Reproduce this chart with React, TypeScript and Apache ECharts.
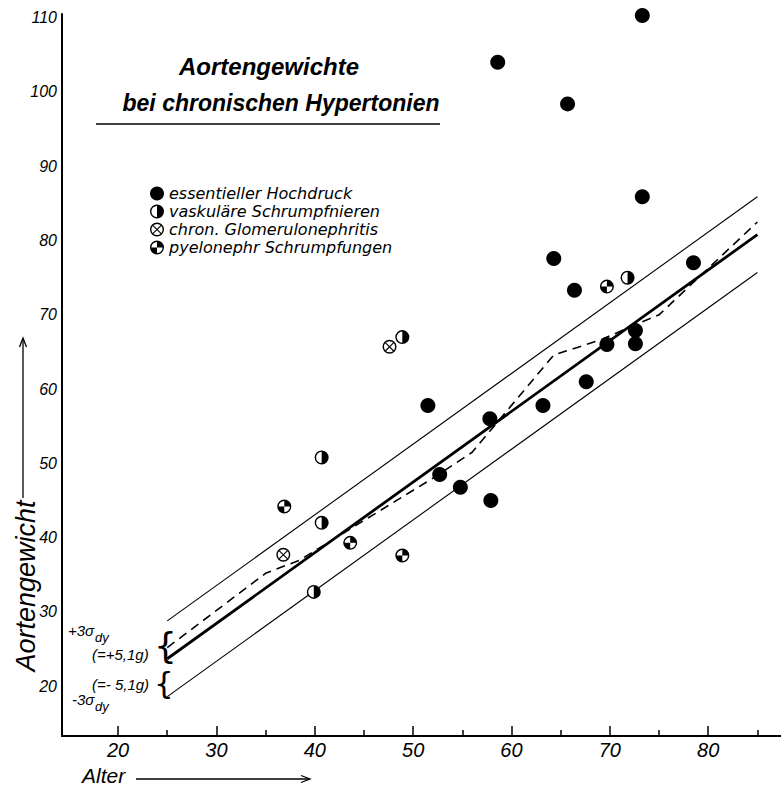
import React, { useEffect, useRef } from 'react';
import * as echarts from 'echarts';

// ---- axis ticks / labels ----
const xTickLabels = [20, 30, 40, 50, 60, 70, 80];
const xMinorTicks = [25, 35, 45, 55, 65, 75, 85];
const yTickLabels = [20, 30, 40, 50, 60, 70, 80, 90, 100, 110];

// ---- data points [Alter, Aortengewicht] ----
const essential: [number, number][] = [
  [73.3, 110.3], [58.6, 104.0], [65.7, 98.4], [73.3, 85.9], [64.3, 77.6],
  [66.4, 73.3], [78.5, 77.0], [51.5, 57.8], [57.8, 56.0], [63.2, 57.8],
  [67.6, 61.0], [69.7, 66.0], [72.6, 67.9], [72.6, 66.1], [52.7, 48.5],
  [54.8, 46.8], [57.9, 45.0],
];
const vascular: [number, number][] = [
  [40.7, 50.8], [40.7, 42.0], [48.9, 67.0], [39.9, 32.7], [71.8, 75.0],
];
const glomerulo: [number, number][] = [
  [47.6, 65.7], [36.8, 37.7],
];
const pyelo: [number, number][] = [
  [36.9, 44.2], [43.6, 39.3], [48.9, 37.6], [69.7, 73.8],
];

// ---- lines ----
const regressionLine: [number, number][] = [[25, 23.7], [85, 80.8]];
const upperLimit: [number, number][] = [[25, 28.8], [85, 85.9]];
const lowerLimit: [number, number][] = [[25, 18.6], [85, 75.7]];
const groupMeans: [number, number][] = [
  [25, 25.2], [35, 35.2], [38.5, 37.0], [44, 41.5], [52, 48.0], [56, 51.5],
  [64.3, 64.6], [69, 66.6], [73, 68.9], [75, 70.0], [85, 82.5],
];

const seriesNames = [
  'essentieller Hochdruck',
  'vaskuläre Schrumpfnieren',
  'chron. Glomerulonephritis',
  'pyelonephr Schrumpfungen',
];

// symbol paths (20x20 box)
const RING = 'M10,0A10,10 0 1 1 10,20A10,10 0 1 1 10,0Z M10,2A8,8 0 1 0 10,18A8,8 0 1 0 10,2Z';
const HALF_SYM = 'path://' + RING + ' M10,2A8,8 0 0 1 10,18Z';
const CROSS_SYM = 'path://' + RING +
  ' M4.909,3.777L16.223,15.091L15.091,16.223L3.777,4.909Z' +
  ' M16.223,4.909L4.909,16.223L3.777,15.091L15.091,3.777Z';
const QUAD_SYM = 'path://' + RING +
  ' M10,10L10,2A8,8 0 0 1 18,10Z M10,10L10,18A8,8 0 0 1 2,10Z';

const SANS = '"Liberation Sans", "DejaVu Sans", sans-serif';
const DEJAVU = '"DejaVu Sans", sans-serif';

export default function App() {
  const ref = useRef<HTMLDivElement>(null);

  useEffect(() => {
    document.body.style.margin = '0';
    const chart = echarts.init(ref.current!, null, { renderer: 'svg' });

    const lineBase = {
      type: 'line' as const,
      showSymbol: false,
      symbol: 'none',
      silent: true,
      z: 1,
    };

    const txt = (text: string, x: number, y: number, extra: any = {}) => ({
      type: 'text',
      x,
      y,
      silent: true,
      style: {
        text,
        fill: '#000',
        fontFamily: SANS,
        fontStyle: 'italic',
        fontSize: 15,
        textAlign: 'left',
        textVerticalAlign: 'middle',
        ...extra,
      },
    });

    const markerStyle = { color: '#000', opacity: 1 };

    chart.setOption({
      animation: false,
      backgroundColor: '#fff',
      grid: { left: 62, top: 14, width: 719, height: 722, containLabel: false },
      xAxis: [
        {
          type: 'value',
          min: 14.3,
          max: 87.4,
          position: 'bottom',
          axisLine: { show: true, lineStyle: { color: '#000', width: 2 } },
          axisTick: {
            show: true,
            inside: true,
            length: 10,
            customValues: xTickLabels,
            lineStyle: { color: '#000', width: 1.5 },
          },
          axisLabel: {
            customValues: xTickLabels,
            color: '#000',
            fontSize: 20,
            fontStyle: 'italic',
            fontFamily: SANS,
            margin: 4,
          },
          splitLine: { show: false },
        },
        {
          type: 'value',
          min: 14.3,
          max: 87.4,
          position: 'bottom',
          offset: 0,
          axisLine: { show: false },
          axisTick: {
            show: true,
            inside: true,
            length: 6,
            customValues: xMinorTicks,
            lineStyle: { color: '#000', width: 1.5 },
          },
          axisLabel: { show: false },
          splitLine: { show: false },
        },
      ],
      yAxis: {
        type: 'value',
        min: 13.3,
        max: 110.5,
        axisLine: { show: true, lineStyle: { color: '#000', width: 2 } },
        axisTick: { show: false },
        axisLabel: {
          customValues: yTickLabels,
          color: '#000',
          fontSize: 16,
          fontStyle: 'italic',
          fontFamily: SANS,
          margin: 5,
        },
        splitLine: { show: false },
      },
      legend: {
        orient: 'vertical',
        left: 145,
        top: 180,
        itemWidth: 14,
        itemHeight: 14,
        itemGap: 1,
        selectedMode: false,
        textStyle: { color: '#000', fontSize: 16, fontStyle: 'italic', fontFamily: DEJAVU, lineHeight: 17 },
        data: [
          { name: seriesNames[0], icon: 'circle' },
          { name: seriesNames[1], icon: HALF_SYM },
          { name: seriesNames[2], icon: CROSS_SYM },
          { name: seriesNames[3], icon: QUAD_SYM },
        ],
      },
      series: [
        { ...lineBase, data: upperLimit, lineStyle: { color: '#000', width: 1.1 } },
        { ...lineBase, data: lowerLimit, lineStyle: { color: '#000', width: 1.1 } },
        { ...lineBase, data: regressionLine, lineStyle: { color: '#000', width: 2.8 } },
        { ...lineBase, data: groupMeans, lineStyle: { color: '#000', width: 1.6, type: [9, 6] } },
        {
          type: 'scatter',
          data: [...vascular, ...glomerulo, ...pyelo],
          symbol: 'circle',
          symbolSize: 13,
          clip: false,
          silent: true,
          itemStyle: { color: '#fff', opacity: 1 },
          z: 2,
        },
        {
          name: seriesNames[0], type: 'scatter', data: essential, symbol: 'circle',
          symbolSize: 15, clip: false, itemStyle: markerStyle, z: 3,
        },
        {
          name: seriesNames[1], type: 'scatter', data: vascular, symbol: HALF_SYM,
          symbolSize: 14, symbolKeepAspect: true, clip: false, itemStyle: markerStyle, z: 3,
        },
        {
          name: seriesNames[2], type: 'scatter', data: glomerulo, symbol: CROSS_SYM,
          symbolSize: 14, symbolKeepAspect: true, clip: false, itemStyle: markerStyle, z: 3,
        },
        {
          name: seriesNames[3], type: 'scatter', data: pyelo, symbol: QUAD_SYM,
          symbolSize: 14, symbolKeepAspect: true, clip: false, itemStyle: markerStyle, z: 3,
        },
      ],
      graphic: [
        txt('Aortengewichte', 269, 66, { fontSize: 24, fontWeight: 'bold', textAlign: 'center' }),
        txt('bei chronischen Hypertonien', 281, 103, { fontSize: 23, fontWeight: 'bold', textAlign: 'center' }),
        { type: 'line', silent: true, shape: { x1: 96, y1: 124, x2: 440, y2: 124 }, style: { stroke: '#000', lineWidth: 1.5 } },

        // sigma annotations
        txt('+3σ', 68, 630, { fontSize: 15 }),
        txt('dy', 95, 637, { fontSize: 13 }),
        txt('(=+5,1g)', 92, 654, { fontSize: 15 }),
        txt('{', 154, 645, { fontSize: 36, fontStyle: 'normal', fontFamily: DEJAVU }),
        txt('(=- 5,1g)', 92, 684, { fontSize: 15 }),
        txt('{', 154, 683, { fontSize: 31, fontStyle: 'normal', fontFamily: DEJAVU }),
        txt('-3σ', 72, 699, { fontSize: 15 }),
        txt('dy', 95, 706, { fontSize: 13 }),

        // y axis name with arrow
        {
          type: 'text',
          x: 26,
          y: 586,
          rotation: Math.PI / 2,
          silent: true,
          style: {
            text: 'Aortengewicht',
            fill: '#000',
            fontFamily: SANS,
            fontStyle: 'italic',
            fontSize: 27,
            textAlign: 'center',
            textVerticalAlign: 'middle',
          },
        },
        { type: 'line', silent: true, shape: { x1: 23, y1: 498, x2: 23, y2: 339 }, style: { stroke: '#000', lineWidth: 1.3 } },
        { type: 'polyline', silent: true, shape: { points: [[19.5, 347], [23, 338], [26.5, 347]] }, style: { stroke: '#000', lineWidth: 1.3, fill: null } },

        // x axis name with arrow
        txt('Alter', 82, 775, { fontSize: 21 }),
        { type: 'line', silent: true, shape: { x1: 136, y1: 779, x2: 309, y2: 779 }, style: { stroke: '#000', lineWidth: 1.3 } },
        { type: 'polyline', silent: true, shape: { points: [[301, 775.5], [310, 779], [301, 782.5]] }, style: { stroke: '#000', lineWidth: 1.3, fill: null } },
      ],
    });

    return () => chart.dispose();
  }, []);

  return <div ref={ref} style={{ width: 781, height: 793 }} />;
}
